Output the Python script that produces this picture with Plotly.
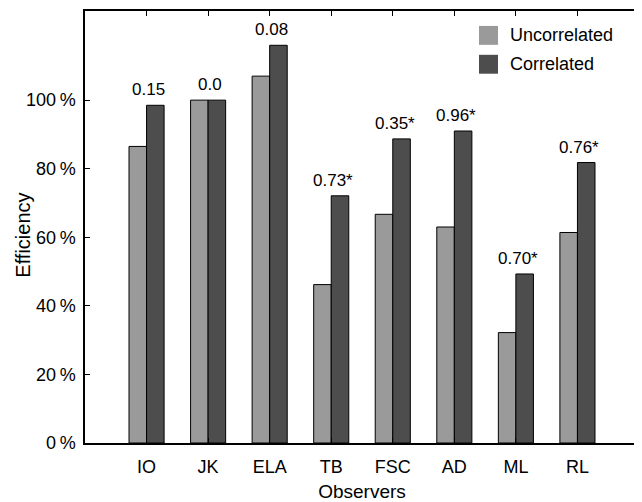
import plotly.graph_objects as go

observers = ["IO", "JK", "ELA", "TB", "FSC", "AD", "ML", "RL"]
uncorrelated = [86.5, 100.0, 107.0, 46.2, 66.7, 63.0, 32.2, 61.4]
correlated = [98.5, 100.0, 116.0, 72.1, 88.7, 91.0, 49.3, 81.8]
labels = ["0.15", "0.0", "0.08", "0.73*", "0.35*", "0.96*", "0.70*", "0.76*"]
y_ticks = [0, 20, 40, 60, 80, 100]
y_ticktext = ["0\u2009%", "20\u2009%", "40\u2009%", "60\u2009%", "80\u2009%", "100\u2009%"]
series_names = ["Uncorrelated", "Correlated"]

LIGHT = "#9a9a9a"
DARK = "#4d4d4d"
FONT = "Liberation Sans, Arial, sans-serif"

# figure geometry (page has an 8px body margin)
W, H = 634, 494
ML_, MR_, MT_, MB_ = 77, 3, 1, 59
PW = W - ML_ - MR_
PH = H - MT_ - MB_

def px_to_paper(xf, yf):
    return (xf - ML_) / PW, 1 - (yf - MT_) / PH

fig = go.Figure()
fig.add_trace(go.Bar(x=observers, y=uncorrelated, name=series_names[0],
                     marker=dict(color=LIGHT, line=dict(color="black", width=1)),
                     showlegend=False))
fig.add_trace(go.Bar(x=observers, y=correlated, name=series_names[1],
                     marker=dict(color=DARK, line=dict(color="black", width=1)),
                     showlegend=False))

for obs, val, lab in zip(observers, correlated, labels):
    fig.add_annotation(x=obs, y=val, text=lab, showarrow=False,
                       yanchor="bottom", xanchor="center", yshift=4, xshift=2,
                       font=dict(family=FONT, size=17, color="black"))

# manual legend (figure pixel positions)
leg_x0, leg_y0, sq, step = 471, 16, 19, 29
for i, (nm, col) in enumerate(zip(series_names, [LIGHT, DARK])):
    y0 = leg_y0 + i * step
    px0, py0 = px_to_paper(leg_x0, y0)
    px1, py1 = px_to_paper(leg_x0 + sq, y0 + sq)
    fig.add_shape(type="rect", xref="paper", yref="paper",
                  x0=px0, x1=px1, y0=py1, y1=py0,
                  fillcolor=col, line=dict(width=0))
    tx, ty = px_to_paper(leg_x0 + sq + 10, y0 + sq / 2)
    fig.add_annotation(xref="paper", yref="paper", x=tx, y=ty,
                       text=nm, showarrow=False, xanchor="left", yanchor="middle",
                       font=dict(family=FONT, size=18, color="black"))

# y-axis title placed as rotated text
yt_x, yt_y = px_to_paper(14.7, 226)
fig.add_annotation(xref="paper", yref="paper", x=yt_x, y=yt_y, text="Efficiency",
                   textangle=-90, showarrow=False, xanchor="center", yanchor="middle",
                   font=dict(family=FONT, size=20, color="black"))

fig.update_layout(
    width=W, height=H,
    margin=dict(l=ML_, r=MR_, t=MT_, b=MB_),
    paper_bgcolor="white", plot_bgcolor="white",
    barmode="group", bargap=0.43, bargroupgap=0,
    font=dict(family=FONT, size=18, color="black"),
    showlegend=False,
)
fig.update_xaxes(
    range=[-1, 8], showline=True, linecolor="black", linewidth=1.5, mirror="ticks",
    ticks="inside", ticklen=5, tickcolor="black", showgrid=False,
    ticklabelstandoff=7,
    title=dict(text="Observers", font=dict(size=19), standoff=10),
    tickfont=dict(size=18),
)
fig.update_yaxes(
    range=[0, 126], tickvals=y_ticks, ticktext=y_ticktext,
    showline=True, linecolor="black", linewidth=1.5, mirror="ticks",
    ticks="inside", ticklen=5, tickcolor="black", showgrid=False, zeroline=False,
    ticklabelstandoff=4,
    tickfont=dict(size=18),
)

fig.write_html("out.html")
